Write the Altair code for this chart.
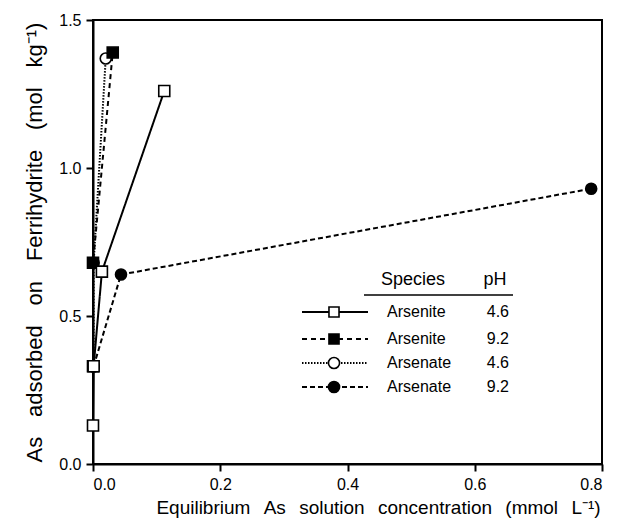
import altair as alt
import pandas as pd

# ---- data ----
series_names = ["Arsenite 4.6", "Arsenite 9.2", "Arsenate 4.6", "Arsenate 9.2"]
arsenite46_x = [0.0, 0.001, 0.014, 0.112]
arsenite46_y = [0.13, 0.33, 0.65, 1.26]
arsenite92_x = [0.0, 0.0, 0.031]
arsenite92_y = [0.33, 0.68, 1.39]
arsenate46_x = [0.001, 0.001, 0.020]
arsenate46_y = [0.33, 0.68, 1.37]
arsenate92_x = [0.001, 0.044, 0.783]
arsenate92_y = [0.33, 0.64, 0.93]

legend_species = ["Arsenite", "Arsenite", "Arsenate", "Arsenate"]
legend_ph = ["4.6", "9.2", "4.6", "9.2"]

x_ticks = [0.0, 0.2, 0.4, 0.6, 0.8]
y_ticks = [0.0, 0.5, 1.0, 1.5]

# drawing order: later rows are drawn on top
rows = []
for name, xs, ys in [
    ("Arsenate 4.6", arsenate46_x, arsenate46_y),
    ("Arsenate 9.2", arsenate92_x, arsenate92_y),
    ("Arsenite 9.2", arsenite92_x, arsenite92_y),
    ("Arsenite 4.6", arsenite46_x, arsenite46_y),
]:
    for i, (xv, yv) in enumerate(zip(xs, ys)):
        rows.append({"series": name, "x": xv, "y": yv, "order": i})
df = pd.DataFrame(rows)

dash_range = [[1, 0], [5, 4], [1.5, 1.5], [5, 3]]
shape_range = ["square", "square", "circle", "circle"]
fill_range = ["white", "black", "white", "black"]
size_range = [121, 121, 144, 144]

FONT = "Liberation Sans"

x_title = "\u2002\u2009".join(["Equilibrium", "As", "solution", "concentration", "(mmol", "L⁻¹)"])
y_title = "\u2002\u2009\u2009".join(["As", "adsorbed", "on", "Ferrihydrite", "(mol", "kg⁻¹)"])

xenc = alt.X("x:Q", scale=alt.Scale(domain=[0, 0.8], nice=False, zero=False),
             axis=alt.Axis(values=x_ticks, format=".1f", title=x_title, titlePadding=6,
                           titleFontSize=19, titleX=285, titleAnchor="middle"))
yenc = alt.Y("y:Q", scale=alt.Scale(domain=[0, 1.5], nice=False),
             axis=alt.Axis(values=y_ticks, format=".1f", title=y_title, titlePadding=12,
                           titleFontSize=22))

lines = alt.Chart(df).mark_line(color="black", strokeWidth=2).encode(
    x=xenc, y=yenc,
    detail="series:N",
    order="order:Q",
    strokeDash=alt.StrokeDash("series:N", scale=alt.Scale(domain=series_names, range=dash_range), legend=None),
)

points = alt.Chart(df).mark_point(stroke="black", strokeWidth=1.6, opacity=1).encode(
    x="x:Q", y="y:Q",
    shape=alt.Shape("series:N", scale=alt.Scale(domain=series_names, range=shape_range), legend=None),
    fill=alt.Fill("series:N", scale=alt.Scale(domain=series_names, range=fill_range), legend=None),
    size=alt.Size("series:N", scale=alt.Scale(domain=series_names, range=size_range), legend=None),
)

# ---- hand-made legend (pixel layout) ----
one = pd.DataFrame({"a": [0]})
leg_layers = []
leg_layers.append(alt.Chart(one).mark_text(font=FONT, fontSize=18, align="center", baseline="middle").encode(
    x=alt.value(320), y=alt.value(260), text=alt.value("Species")))
leg_layers.append(alt.Chart(one).mark_text(font=FONT, fontSize=18, align="center", baseline="middle").encode(
    x=alt.value(402), y=alt.value(260), text=alt.value("pH")))
leg_layers.append(alt.Chart(one).mark_rule(color="black", strokeWidth=1.5).encode(
    x=alt.value(271), x2=alt.value(420), y=alt.value(275)))
row_y = [292, 319, 343, 367]
for i in range(4):
    leg_layers.append(alt.Chart(one).mark_rule(color="black", strokeWidth=2, strokeDash=dash_range[i]).encode(
        x=alt.value(209), x2=alt.value(275), y=alt.value(row_y[i])))
    leg_layers.append(alt.Chart(one).mark_point(shape=shape_range[i], fill=fill_range[i], stroke="black",
                                                 strokeWidth=1.6, opacity=1, size=size_range[i] - 20).encode(
        x=alt.value(241), y=alt.value(row_y[i])))
    leg_layers.append(alt.Chart(one).mark_text(font=FONT, fontSize=16, align="left", baseline="middle").encode(
        x=alt.value(294), y=alt.value(row_y[i]), text=alt.value(legend_species[i])))
    leg_layers.append(alt.Chart(one).mark_text(font=FONT, fontSize=16, align="right", baseline="middle").encode(
        x=alt.value(416), y=alt.value(row_y[i]), text=alt.value(legend_ph[i])))

chart = alt.layer(lines, points, *leg_layers).properties(
    width=509, height=444,
    autosize=alt.AutoSizeParams(type="none"),
    padding={"left": 93, "top": 20, "right": 16, "bottom": 67},
).configure_view(stroke="black", strokeWidth=2).configure_axis(
    grid=False,
    labelFont=FONT, labelFontSize=16, labelColor="black", labelPadding=5,
    titleFont=FONT, titleColor="black", titleFontWeight="normal",
    domainColor="black", domainWidth=2, tickColor="black", tickWidth=2, tickSize=7,
)

chart.save("out.html", embed_options={"renderer": "svg", "actions": False})
